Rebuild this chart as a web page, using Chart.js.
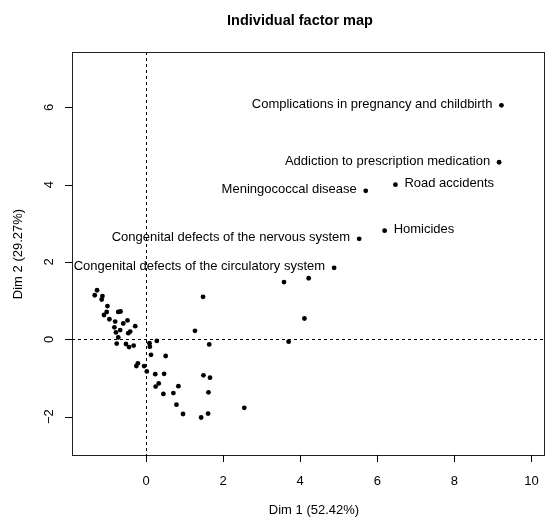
<!DOCTYPE html>
<html>
<head>
<meta charset="utf-8">
<script src="https://cdn.jsdelivr.net/npm/chart.js@4.4.0/dist/chart.umd.min.js"></script>
<style>
html,body{margin:0;padding:0;background:#fff;}
#wrap{width:547px;height:519px;position:relative;}
</style>
</head>
<body>
<div id="wrap"><canvas id="c" width="547" height="519"></canvas></div>
<script>
const titleText = "Individual factor map";
const xTitle = "Dim 1 (52.42%)";
const yTitle = "Dim 2 (29.27%)";
const xTicks = [0, 2, 4, 6, 8, 10];
const yTicks = [-2, 0, 2, 4, 6];

const labelNames = [
  "Complications in pregnancy and childbirth",
  "Addiction to prescription medication",
  "Road accidents",
  "Meningococcal disease",
  "Homicides",
  "Congenital defects of the nervous system",
  "Congenital defects of the circulatory system"
];
const labelX = [9.22, 9.16, 6.47, 5.70, 6.19, 5.53, 4.88];
const labelY = [6.05, 4.58, 4.00, 3.84, 2.81, 2.60, 1.85];
const labelSide = ["left", "left", "right", "left", "right", "left", "left"];

const otherX = [3.58, 4.22, 1.48, 4.11, 3.70, 1.27, 1.64, 2.55, 1.49, 1.66, 1.62, 1.61, 1.43, 0.96, 0.79, 0.84, 0.71, 0.45, 0.47, 0.51, 0.24, 0.33, 0.25, 0.28, 0.13, 0.09, 0.10, 0.02, -0.05, -0.21, -0.25, -0.28, -0.32, -0.44, -0.52, -0.76, -0.72, -0.67, -0.78, -0.82, -0.59, -0.48, -0.46, -0.41, -0.95, -0.80, -0.72, -0.66, -1.09, -1.02, -1.00, -1.15, -1.13, -1.33, -1.27];
const otherY = [1.48, 1.58, 1.10, 0.54, -0.06, 0.22, -0.13, -1.77, -0.93, -0.99, -1.37, -1.92, -2.02, -1.93, -1.69, -1.21, -1.39, -1.41, -0.89, -0.43, -0.90, -1.14, -1.22, -0.04, -0.40, -0.10, -0.19, -0.83, -0.69, -0.62, -0.69, 0.34, -0.16, -0.20, -0.12, -0.11, 0.05, 0.24, 0.18, 0.31, 0.41, 0.49, 0.16, 0.20, 0.52, 0.46, 0.71, 0.72, 0.63, 0.71, 0.86, 1.03, 1.12, 1.14, 1.27];

const allPts = [];
for (let i = 0; i < labelX.length; i++) allPts.push({x: labelX[i], y: labelY[i]});
for (let i = 0; i < otherX.length; i++) allPts.push({x: otherX[i], y: otherY[i]});

const FONT = "'Liberation Sans', Arial, Helvetica, sans-serif";

const decor = {
  id: 'decor',
  afterDatasetsDraw(chart) {
    const ctx = chart.ctx;
    const a = chart.chartArea;
    const xs = chart.scales.x, ys = chart.scales.y;
    ctx.save();
    ctx.strokeStyle = '#000';
    ctx.lineWidth = 1;
    ctx.setLineDash([3, 3]);
    const x0 = Math.round(xs.getPixelForValue(0)) + 0.5;
    const y0 = Math.round(ys.getPixelForValue(0)) + 0.5;
    ctx.beginPath();
    ctx.moveTo(x0, a.top); ctx.lineTo(x0, a.bottom);
    ctx.moveTo(a.left, y0); ctx.lineTo(a.right, y0);
    ctx.stroke();
    ctx.setLineDash([]);
    ctx.strokeStyle = '#222';
    ctx.strokeRect(Math.round(a.left) + 0.5, Math.round(a.top) + 0.5, Math.round(a.right - a.left) - 1, Math.round(a.bottom - a.top));
    ctx.strokeStyle = '#000';
    ctx.fillStyle = '#000';
    ctx.font = '13px ' + FONT;
    ctx.textAlign = 'center';
    ctx.textBaseline = 'middle';
    ctx.beginPath();
    xTicks.forEach(v => {
      const px = Math.round(xs.getPixelForValue(v)) + 0.5;
      ctx.moveTo(px, a.bottom); ctx.lineTo(px, a.bottom + 7);
    });
    yTicks.forEach(v => {
      const py = Math.round(ys.getPixelForValue(v)) + 0.5;
      ctx.moveTo(a.left, py); ctx.lineTo(a.left - 7, py);
    });
    ctx.stroke();
    xTicks.forEach(v => {
      const px = xs.getPixelForValue(v);
      ctx.fillText(String(v), px, a.bottom + 26);
    });
    yTicks.forEach(v => {
      const py = ys.getPixelForValue(v);
      ctx.save();
      ctx.translate(a.left - 23, py);
      ctx.rotate(-Math.PI / 2);
      ctx.fillText(v < 0 ? '\u2212' + Math.abs(v) : String(v), 0, 0);
      ctx.restore();
    });
    ctx.fillText(xTitle, 314, 510);
    ctx.save();
    ctx.translate(18, 254);
    ctx.rotate(-Math.PI / 2);
    ctx.fillText(yTitle, 0, 0);
    ctx.restore();
    ctx.font = 'bold 14.5px ' + FONT;
    ctx.fillText(titleText, 300, 21);
    ctx.font = '13px ' + FONT;
    for (let i = 0; i < labelNames.length; i++) {
      const px = xs.getPixelForValue(labelX[i]);
      const py = ys.getPixelForValue(labelY[i]);
      if (labelSide[i] === 'left') {
        ctx.textAlign = 'right';
        ctx.fillText(labelNames[i], px - 9, py - 1);
      } else {
        ctx.textAlign = 'left';
        ctx.fillText(labelNames[i], px + 9, py - 1);
      }
    }
    ctx.restore();
  }
};

new Chart(document.getElementById('c'), {
  type: 'scatter',
  data: {
    datasets: [{
      data: allPts,
      backgroundColor: '#000',
      borderColor: '#000',
      pointRadius: 2.4,
      pointHoverRadius: 2.4,
      borderWidth: 0
    }]
  },
  options: {
    responsive: false,
    animation: false,
    events: [],
    layout: {padding: {left: 72, top: 52, right: 1, bottom: 64}},
    plugins: {legend: {display: false}, tooltip: {enabled: false}, title: {display: false}},
    scales: {
      x: {type: 'linear', min: -1.92, max: 10.34, display: false},
      y: {type: 'linear', min: -2.99, max: 7.43, display: false}
    }
  },
  plugins: [decor]
});
</script>
</body>
</html>
